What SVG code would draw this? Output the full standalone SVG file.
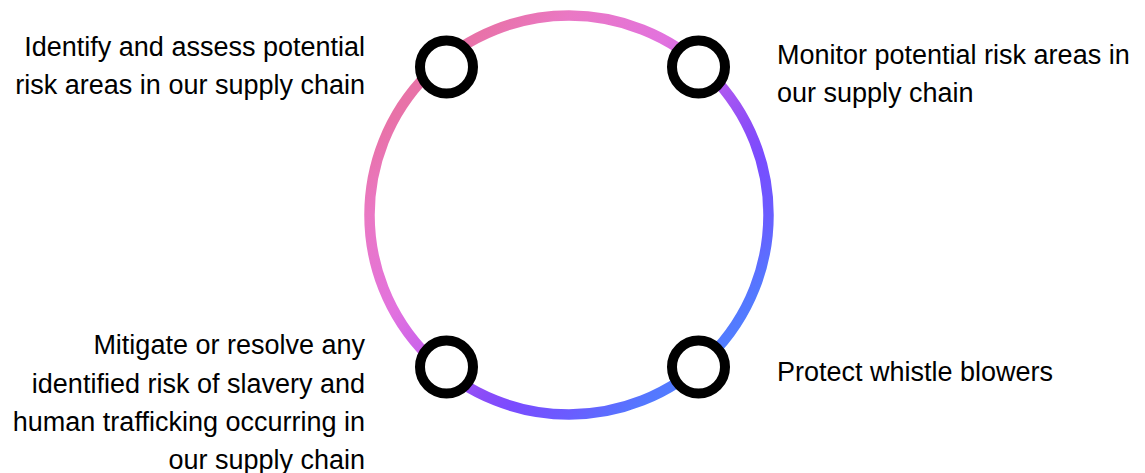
<svg xmlns="http://www.w3.org/2000/svg" width="1145" height="473" viewBox="0 0 1145 473">
  <style>
    .lbl { font-family: "Liberation Sans", Arial, sans-serif; font-size: 27px; fill: #000; }
    .end { text-anchor: end; }
    .dot { fill: #fff; stroke: #000; stroke-width: 10; }
  </style>
  <defs>
    <linearGradient id="ringGrad" gradientUnits="userSpaceOnUse" x1="369" y1="15" x2="768" y2="414">
      <stop offset="0" stop-color="#e8709a"/>
      <stop offset="0.16" stop-color="#e872a8"/>
      <stop offset="0.25" stop-color="#ea78c4"/>
      <stop offset="0.4" stop-color="#e272de"/>
      <stop offset="0.48" stop-color="#cc64ea"/>
      <stop offset="0.55" stop-color="#a656f2"/>
      <stop offset="0.62" stop-color="#8a4cf8"/>
      <stop offset="0.67" stop-color="#7a4cff"/>
      <stop offset="0.75" stop-color="#6a5cff"/>
      <stop offset="0.83" stop-color="#5478ff"/>
      <stop offset="0.9" stop-color="#4f84ff"/>
      <stop offset="1" stop-color="#4f88ff"/>
    </linearGradient>
  </defs>
  <rect width="1145" height="473" fill="#fff"/>
  <g id="connectors">
    <circle cx="569" cy="215" r="199.5" fill="none" stroke="url(#ringGrad)" stroke-width="10.5"/>
  </g>
  <g id="node-identify">
    <circle class="dot" cx="446.5" cy="67" r="26.5"/>
    <text class="lbl end" x="365" y="56">Identify and assess potential</text>
    <text class="lbl end" x="365" y="94">risk areas in our supply chain</text>
  </g>
  <g id="node-monitor">
    <circle class="dot" cx="698.5" cy="67" r="26.5"/>
    <text class="lbl" x="777" y="64">Monitor potential risk areas in</text>
    <text class="lbl" x="777" y="102">our supply chain</text>
  </g>
  <g id="node-mitigate">
    <circle class="dot" cx="446.5" cy="367" r="26.5"/>
    <text class="lbl end" x="365" y="354">Mitigate or resolve any</text>
    <text class="lbl end" x="365" y="393">identified risk of slavery and</text>
    <text class="lbl end" x="365" y="431">human trafficking occurring in</text>
    <text class="lbl end" x="365" y="469">our supply chain</text>
  </g>
  <g id="node-protect">
    <circle class="dot" cx="698.5" cy="367" r="26.5"/>
    <text class="lbl" x="777" y="381">Protect whistle blowers</text>
  </g>
</svg>
